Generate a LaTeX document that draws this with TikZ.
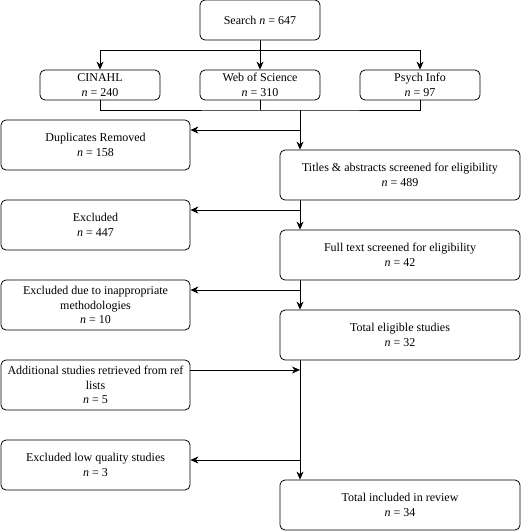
\documentclass[tikz,border=0pt]{standalone}
\usepackage{fontspec}
\setmainfont{Liberation Serif}
\newfontfamily\boxfont{Liberation Serif}
\usetikzlibrary{arrows.meta}
\tikzset{box/.style = {draw, rounded corners=5pt, align=center, inner sep=1pt,
                       line width=0.8pt, font=\boxfont\fontsize{12}{14.5}\selectfont},
         srcbox/.style = {box, minimum width=120pt, minimum height=30pt},
         sidebox/.style = {box, minimum width=189pt, minimum height=50pt},
         mainbox/.style = {box, minimum width=240pt, minimum height=50pt},
         flow/.style = {line width=0.8pt, -{Stealth[length=8pt, width=7pt, inset=2.5pt]}},
         link/.style = {line width=0.8pt}}

\begin{document}
\begin{tikzpicture}[x=1pt, y=-1pt]
    \useasboundingbox (0, 0) rectangle (521, 531);

    \node [box, minimum width=120pt, minimum height=40pt] (search) at (260, 20) {Search \textit{n} = 647};
    \node [srcbox] (cinahl) at (100, 85) {CINAHL\\\textit{n} = 240};
    \node [srcbox] (wos) at (260, 85) {Web of Science\\\textit{n} = 310};
    \node [srcbox] (psych) at (420, 85) {Psych Info\\\textit{n} = 97};

    \node [sidebox] (dup) at (95.5, 145) {Duplicates Removed\\\textit{n} = 158};
    \node [mainbox] (titles) at (400, 175) {Titles \& abstracts screened for eligibility\\\textit{n} = 489};
    \node [sidebox] (excl) at (95.5, 225) {Excluded\\\textit{n} = 447};
    \node [mainbox] (full) at (400, 255) {Full text screened for eligibility\\\textit{n} = 42};
    \node [sidebox] (meth) at (95.5, 305) {Excluded due to inappropriate\\methodologies\\\textit{n} = 10};
    \node [mainbox] (elig) at (400, 335) {Total eligible studies\\\textit{n} = 32};
    \node [sidebox] (add) at (95.5, 385) {Additional studies retrieved from ref\\lists\\\textit{n} = 5};
    \node [sidebox] (lowq) at (95.5, 465) {Excluded low quality studies\\\textit{n} = 3};
    \node [mainbox] (incl) at (400, 505) {Total included in review\\\textit{n} = 34};

    \coordinate (split) at (260, 50);
    \coordinate (merge) at (300, 110);
    \coordinate (d1) at (300, 130);
    \coordinate (d2) at (300, 210);
    \coordinate (d3) at (300, 290);
    \coordinate (d4) at (300, 370);
    \coordinate (d5) at (300, 460);

    \draw [flow] (search) -- (wos);
    \draw [flow] (split) -| (cinahl);
    \draw [flow] (split) -| (psych);

    \draw [link] (cinahl) |- (merge) -| (psych);
    \draw [link] (wos) -- (wos |- merge);
    \draw [flow] (merge) -- (merge |- titles.north);
    \draw [flow] (d1) -- (d1 -| dup.east);

    \draw [flow] (merge |- titles.south) -- (merge |- full.north);
    \draw [flow] (d2) -- (d2 -| excl.east);

    \draw [flow] (merge |- full.south) -- (merge |- elig.north);
    \draw [flow] (d3) -- (d3 -| meth.east);

    \draw [flow] (merge |- elig.south) -- (merge |- incl.north);
    \draw [flow] (add.east |- d4) -- (d4);
    \draw [flow] (d5) -- (d5 -| lowq.east);
\end{tikzpicture}
\end{document}
